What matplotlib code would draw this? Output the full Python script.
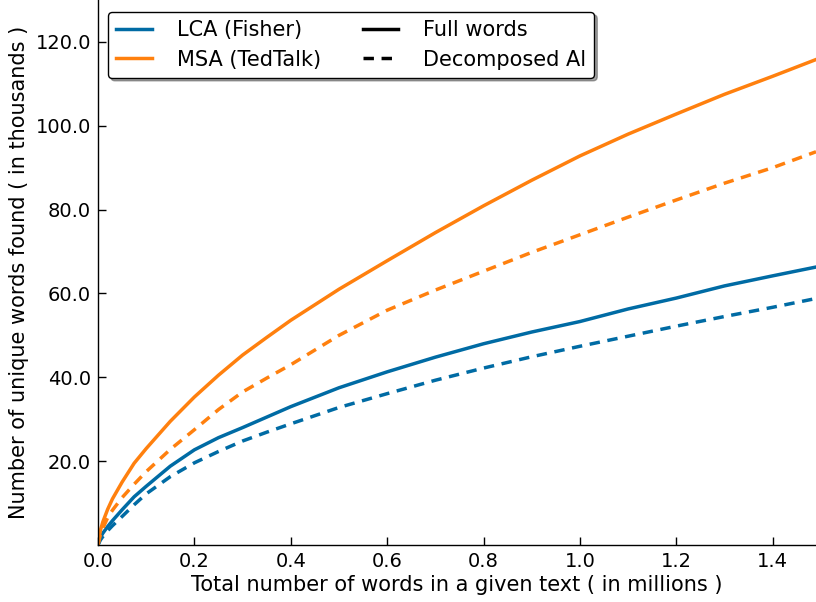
import matplotlib as mpl
mpl.use("Agg")
import matplotlib.pyplot as plt
from matplotlib.lines import Line2D

plt.rcParams.update({
    "font.family": "DejaVu Sans",
    "font.size": 14,
    "axes.linewidth": 1.0,
})

# corpus size (millions of words) vs. vocabulary size (thousands)
x_m = [0.0, 0.005, 0.01, 0.02, 0.03, 0.05, 0.075, 0.1, 0.15, 0.2, 0.25, 0.3,
       0.35, 0.4, 0.5, 0.6, 0.7, 0.8, 0.9, 1.0, 1.1, 1.2, 1.3, 1.4, 1.49]

lca_full = [0.0, 1.8, 2.8, 4.4, 5.8, 8.4, 11.5, 14.0, 18.8, 22.7, 25.6, 28.0,
            30.5, 33.0, 37.5, 41.3, 44.8, 48.0, 50.8, 53.3, 56.3, 58.9, 61.8, 64.2, 66.3]
lca_decomp = [0.0, 1.2, 2.0, 3.4, 4.6, 6.8, 9.6, 12.2, 16.3, 19.6, 22.3, 24.8,
              26.9, 28.9, 32.8, 36.1, 39.3, 42.2, 44.9, 47.4, 49.8, 52.2, 54.5, 56.7, 58.8]
msa_full = [0.0, 3.5, 5.5, 8.5, 11.0, 15.0, 19.5, 23.0, 29.5, 35.3, 40.5, 45.3,
            49.5, 53.6, 61.0, 67.8, 74.5, 80.9, 87.0, 92.8, 98.0, 102.8, 107.5, 111.8, 115.8]
msa_decomp = [0.0, 2.5, 4.0, 6.5, 8.3, 11.3, 14.5, 17.5, 22.8, 27.5, 32.3, 36.5,
              39.8, 43.0, 50.0, 56.0, 60.8, 65.3, 69.8, 74.0, 78.2, 82.3, 86.3, 90.0, 93.8]

blue = "#006BA4"
orange = "#FF800E"
lw = 2.5
dash = (3.0, 2.2)

fig = plt.figure(figsize=(8.16, 6.02), dpi=100)
ax = fig.add_axes([98 / 816, 57 / 602, 718 / 816, 545 / 602])

ax.plot(x_m, lca_full, color=blue, lw=lw)
ax.plot(x_m, lca_decomp, color=blue, lw=lw, ls="--", dashes=dash)
ax.plot(x_m, msa_full, color=orange, lw=lw)
ax.plot(x_m, msa_decomp, color=orange, lw=lw, ls="--", dashes=dash)

ax.set_xlim(0, 1.49)
ax.set_ylim(0, 130)
ax.set_xticks([0.0, 0.2, 0.4, 0.6, 0.8, 1.0, 1.2, 1.4])
ax.set_xticklabels(["0.0", "0.2", "0.4", "0.6", "0.8", "1.0", "1.2", "1.4"])
ax.set_yticks([20, 40, 60, 80, 100, 120])
ax.set_yticklabels(["20.0", "40.0", "60.0", "80.0", "100.0", "120.0"])
ax.spines["top"].set_visible(False)
ax.spines["right"].set_visible(False)
ax.tick_params(direction="in", length=6, width=1, pad=5, labelsize=14,
               top=False, right=False)

ax.set_xlabel("Total number of words in a given text ( in millions )", fontsize=15, labelpad=3)
ax.set_ylabel("Number of unique words found ( in thousands )", fontsize=15, labelpad=5)

handles = [
    Line2D([], [], color=blue, lw=lw),
    Line2D([], [], color=orange, lw=lw),
    Line2D([], [], color="black", lw=lw),
    Line2D([], [], color="black", lw=lw, ls="--", dashes=dash),
]
labels = ["LCA (Fisher)", "MSA (TedTalk)", "Full words", "Decomposed Al"]
leg = ax.legend(handles, labels, ncol=2, loc="upper left",
                bbox_to_anchor=(0.014, 0.978), borderaxespad=0,
                fontsize=15, frameon=True, fancybox=True, shadow=True,
                framealpha=1, edgecolor="black", handlelength=1.7,
                handletextpad=1.2, columnspacing=2.0, labelspacing=0.45,
                borderpad=0.4)
leg.get_frame().set_linewidth(1.0)

fig.savefig("out.png", dpi=100)
